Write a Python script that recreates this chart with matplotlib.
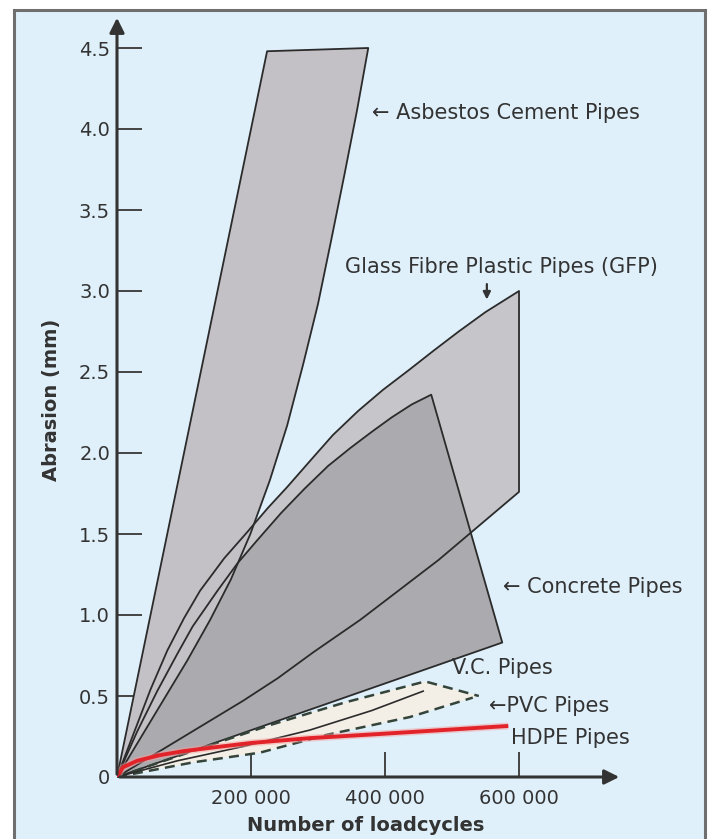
import matplotlib
matplotlib.use("Agg")
import matplotlib.pyplot as plt
from matplotlib.patches import Rectangle, Polygon
import numpy as np

# boundaries (x = load cycles, y = abrasion in mm)
asbestos_left_x = [0, 224000]
asbestos_left_y = [0, 4.48]
asbestos_right_x = [0, 35000, 70000, 105000, 139000, 170000, 199000, 228000, 254000,
                    278000, 300000, 320000, 340000, 358000, 375000]
asbestos_right_y = [0, 0.24, 0.48, 0.72, 0.97, 1.22, 1.50, 1.83, 2.17,
                    2.55, 2.92, 3.32, 3.73, 4.11, 4.50]

gfp_upper_x = [0, 25000, 50000, 75000, 100000, 124000, 160000, 194000, 225000, 254000,
               290000, 322000, 360000, 397000, 435000, 472000, 510000, 550000, 600000]
gfp_upper_y = [0, 0.27, 0.54, 0.78, 0.98, 1.15, 1.35, 1.51, 1.66, 1.79,
               1.96, 2.11, 2.26, 2.39, 2.51, 2.63, 2.75, 2.87, 3.00]
gfp_lower_x = [0, 100000, 188000, 240000, 293000, 363000, 420000, 480000, 540000, 600000]
gfp_lower_y = [0, 0.25, 0.47, 0.61, 0.77, 0.97, 1.15, 1.34, 1.55, 1.76]

concrete_upper_x = [0, 30000, 60000, 90000, 113000, 150000, 180000, 209000, 245000,
                    280000, 315000, 348000, 380000, 410000, 440000, 469000]
concrete_upper_y = [0, 0.28, 0.53, 0.76, 0.93, 1.15, 1.32, 1.46, 1.63,
                    1.78, 1.92, 2.03, 2.13, 2.22, 2.30, 2.36]
concrete_lower_x = [0, 575000]
concrete_lower_y = [0, 0.83]

vc_upper_x = [0, 120000, 228000, 340000, 460000, 540000]
vc_upper_y = [0, 0.17, 0.32, 0.46, 0.59, 0.50]
vc_lower_x = [0, 113000, 213000, 313000, 437000, 531000]
vc_lower_y = [0, 0.09, 0.15, 0.26, 0.37, 0.49]

pvc_x = [0, 90000, 190000, 288000, 380000, 457000]
pvc_y = [0, 0.10, 0.19, 0.29, 0.41, 0.53]

hdpe_x = [0, 9000, 30000, 64000, 100000, 139000, 200000, 288000, 390000, 487000, 584000]
hdpe_y = [0, 0.06, 0.10, 0.135, 0.16, 0.18, 0.21, 0.24, 0.265, 0.29, 0.315]

yticks = [0, 0.5, 1.0, 1.5, 2.0, 2.5, 3.0, 3.5, 4.0, 4.5]
ytick_labels = ["0", "0.5", "1.0", "1.5", "2.0", "2.5", "3.0", "3.5", "4.0", "4.5"]
xticks = [200000, 400000, 600000]
xtick_labels = ["200 000", "400 000", "600 000"]

TXT = "#333333"
EDGE = "#2b2b2b"

fig = plt.figure(figsize=(7.12, 8.39), dpi=100)
fig.patch.set_facecolor("white")
frame = Rectangle((14 / 712, -0.01), (705 - 14) / 712, 1.0 - 10 / 839 + 0.01,
                  transform=fig.transFigure, facecolor="#dff0fa",
                  edgecolor="#6f6f6f", lw=2.2, zorder=-5)
fig.patches.append(frame)

ax = fig.add_axes([117 / 712, 1 - 777 / 839, 505 / 712, 762 / 839])
ax.set_zorder(1)
ax.set_facecolor("none")
ax.set_xlim(0, 505 * 1492.5)
ax.set_ylim(0, 762 / 162)
for s in ax.spines.values():
    s.set_visible(False)


def band(xa, ya, xb, yb):
    # closed outline: first curve outwards, second back to the origin
    return np.column_stack([list(xa) + list(xb)[::-1], list(ya) + list(yb)[::-1]])


gfp = band(gfp_upper_x, gfp_upper_y, gfp_lower_x, gfp_lower_y)
concrete = band(concrete_upper_x, concrete_upper_y, concrete_lower_x, concrete_lower_y)
asbestos = band(asbestos_left_x, asbestos_left_y, asbestos_right_x, asbestos_right_y)
vc = band(vc_upper_x, vc_upper_y, vc_lower_x, vc_lower_y)

ax.add_patch(Polygon(gfp, closed=True, facecolor="#c6c6ca", edgecolor="none", zorder=1))
ax.add_patch(Polygon(concrete, closed=True, facecolor="#ababaf", edgecolor="none", zorder=2))
ax.add_patch(Polygon(asbestos, closed=True, facecolor="#c3c1c6", edgecolor="none", zorder=3))
ax.add_patch(Polygon(vc, closed=True, facecolor="#f3efe6", edgecolor="none", zorder=3))

for poly in (gfp, concrete, asbestos):
    ax.add_patch(Polygon(poly, closed=True, facecolor="none", edgecolor=EDGE, lw=1.3,
                         joinstyle="round", zorder=4))

ax.plot(vc_upper_x, vc_upper_y, color="#34443a", lw=1.8, ls=(0, (4, 2.5)), zorder=5)
ax.plot(vc_lower_x, vc_lower_y, color="#34443a", lw=1.8, ls=(0, (4, 2.5)), zorder=5)
ax.plot(pvc_x, pvc_y, color=EDGE, lw=1.2, zorder=5)
ax.plot(hdpe_x, hdpe_y, color="#f4a0a0", lw=5, alpha=0.5, solid_capstyle="butt", zorder=6)
ax.plot(hdpe_x, hdpe_y, color="#e2232a", lw=2.8, solid_capstyle="butt", zorder=7)

# axes with arrow heads
ax.annotate("", xy=(1, 0), xytext=(0, 0), xycoords="axes fraction",
            arrowprops=dict(arrowstyle="-|>", color="#333333", lw=2.2, mutation_scale=22),
            zorder=8, annotation_clip=False)
ax.annotate("", xy=(0, 1), xytext=(0, 0), xycoords="axes fraction",
            arrowprops=dict(arrowstyle="-|>", color="#333333", lw=2.2, mutation_scale=22),
            zorder=8, annotation_clip=False)

ax.set_yticks(yticks)
ax.set_yticklabels(ytick_labels)
ax.set_xticks(xticks)
ax.set_xticklabels(xtick_labels)
ax.tick_params(axis="both", direction="in", length=18, width=1.4, color="#444444",
               labelsize=14, labelcolor=TXT)
ax.tick_params(axis="y", pad=5)
ax.tick_params(axis="x", pad=9)

ax.text(0.493, -0.064, "Number of loadcycles", transform=ax.transAxes, ha="center",
        va="center", fontsize=14, fontweight="bold", color=TXT)
ax.text(-0.129, 0.495, "Abrasion (mm)", transform=ax.transAxes, ha="center",
        va="center", rotation=90, fontsize=14, fontweight="bold", color=TXT)

lab = dict(fontsize=15, color=TXT, va="center", ha="left", zorder=9)
ax.text(380000, 4.10, "\u2190 Asbestos Cement Pipes", **lab)
ax.text(340000, 3.15, "Glass Fibre Plastic Pipes (GFP)", **lab)
# small pointer from the GFP label down to its band
ax.annotate("", xy=(552000, 2.93), xytext=(552000, 3.06),
            arrowprops=dict(arrowstyle="-|>", color=TXT, lw=1.6, mutation_scale=11),
            zorder=9)
ax.text(576000, 1.17, "\u2190 Concrete Pipes", **lab)
ax.text(500000, 0.67, "V.C. Pipes", **lab)
ax.text(555000, 0.44, "\u2190PVC Pipes", **lab)
ax.text(588000, 0.24, "HDPE Pipes", **lab)

fig.savefig("out.png", dpi=100)
